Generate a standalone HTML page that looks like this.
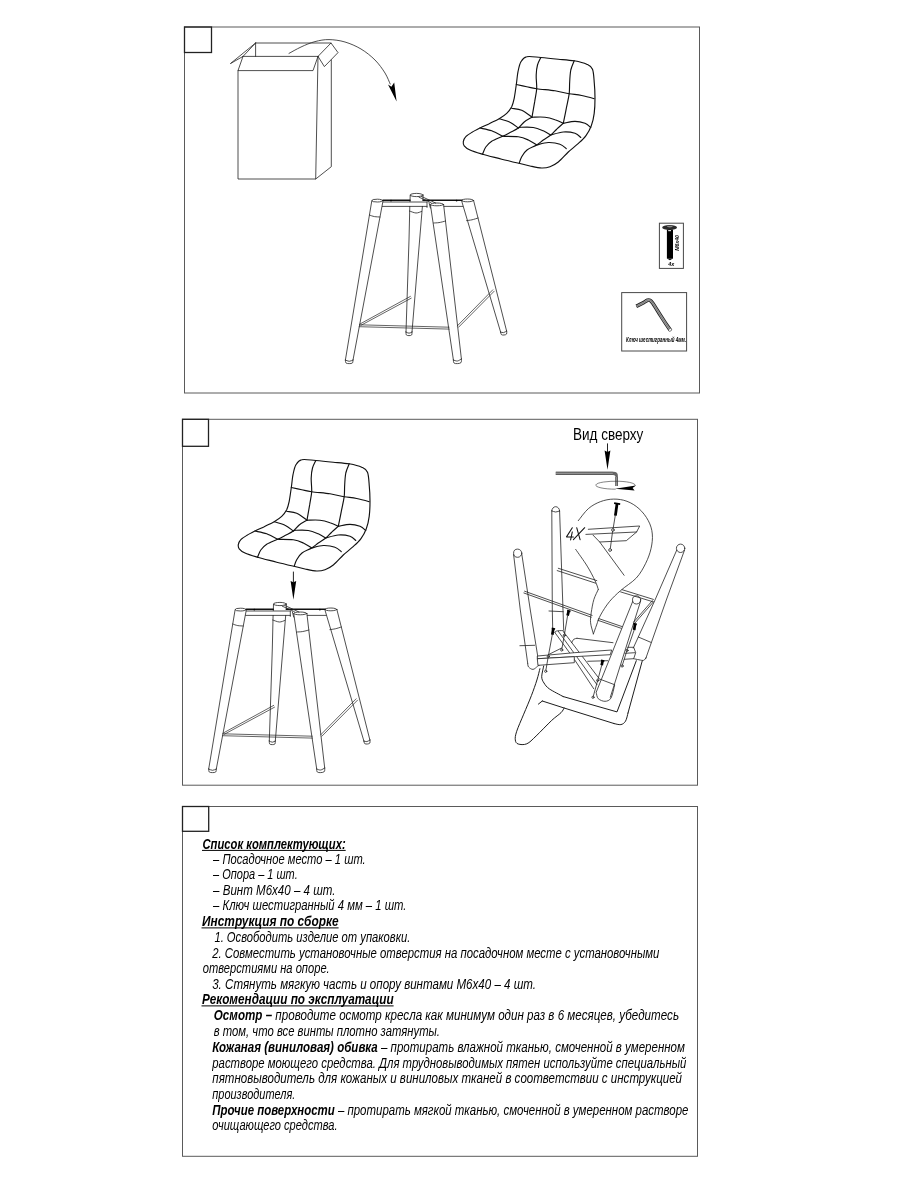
<!DOCTYPE html>
<html lang="ru">
<head>
<meta charset="utf-8">
<title>Инструкция по сборке</title>
<style>
html,body{margin:0;padding:0;background:#fff;}
body{width:900px;height:1200px;overflow:hidden;font-family:"Liberation Sans",sans-serif;}
svg{display:block;position:absolute;left:0;top:0;will-change:transform;}
.f{fill:none;stroke:#5a5a5a;stroke-width:1;}
.b{fill:none;stroke:#222;stroke-width:1.3;}
.l{fill:none;stroke:#222;stroke-width:0.8;stroke-linecap:round;stroke-linejoin:round;}
.t{fill:none;stroke:#333;stroke-width:0.6;stroke-linecap:round;stroke-linejoin:round;}
.s{fill:none;stroke:#111;stroke-width:1.15;stroke-linecap:round;stroke-linejoin:round;}
.k{fill:#000;stroke:none;}
.bk{stroke:#111;stroke-width:1.5;}
.kk{fill:#000;stroke:none;}
.x4{stroke-width:1.05;stroke:#111;}
.w{fill:#fff;}
.t2{stroke-width:0.7;stroke:#222;}
.h{stroke-width:0.95;stroke:#111;}
.sk3{stroke:#000;stroke-width:2.8;stroke-linecap:butt;}
.sk{stroke:#000;stroke-width:2.7;stroke-linecap:butt;}
.sk2{stroke:#000;stroke-width:1.7;stroke-linecap:butt;}
text{font-family:"Liberation Sans",sans-serif;fill:#000;}
.ti{font-style:italic;font-size:14.5px;}
.tb{font-style:italic;font-weight:bold;font-size:14.5px;}
</style>
</head>
<body>
<svg width="900" height="1200" viewBox="0 0 900 1200">
<rect class="f" x="184.5" y="27" width="515" height="366"/>
<rect class="b" x="184.5" y="27" width="27" height="25.5"/>
<rect class="f" x="182.5" y="419.3" width="515" height="365.9"/>
<rect class="b" x="182.5" y="419.3" width="26" height="27"/>
<rect class="f" x="182.5" y="806.5" width="515" height="349.8"/>
<rect class="b" x="182.5" y="806.5" width="26.2" height="24.8"/>
<path class="l" d="M255.6 43 L331 43"/>
<path class="l" d="M255.6 43 L230.4 63.6 L243 56.4 L255.6 43"/>
<path class="l" d="M255.6 43 L255.6 56.4"/>
<path class="l" d="M243 56.4 L318 56.4"/>
<path class="l" d="M243 56.4 L238 70.6 L313 70.6 L318 56.4"/>
<path class="l" d="M238 70.6 L238 179 L315.7 179 L318 56.4"/>
<path class="l" d="M318 56.4 L331 43 L338 52.6 L324.4 66.6 L318 56.4"/>
<path class="l" d="M331.3 60 L331.3 166.7 L315.7 179"/>
<path class="l" d="M289 53.4 C291 52.3 296.7 49 301 47 C305.3 45 310.3 42.8 315 41.6 C319.7 40.4 324 39.5 329 39.6 C334 39.7 339.7 40.4 345 42 C350.3 43.6 356 46 361 49 C366 52 371 56 375 60 C379 64 382.5 69 385 73 C387.5 77 389.3 82.2 390.2 84"/>
<path class="k" d="M396.6 101.6 L388 84.4 L391.4 86.8 L394.2 82.6Z"/>
<g id="seat" class="s"><path d="M526.7 56.7 C530 55.9 535.6 57.1 540.8 57.5 C546.1 57.9 552.8 58.6 558.3 59.2 C563.9 59.7 569.4 60 574.2 60.8 C578.9 61.7 583.6 62.8 586.7 64.2 C589.7 65.6 591.2 66 592.5 69.2 C593.8 72.4 593.9 78.5 594.3 83.3 C594.8 88.2 595 93.3 595 98.3 C595 103.3 594.8 108.8 594.2 113.3 C593.6 117.9 592.7 122.1 591.3 125.8 C589.9 129.6 588.1 132.8 585.8 135.8 C583.5 138.9 580.4 141.5 577.5 144.2 C574.6 146.9 571.5 149 568.3 152 C565.1 155 561.4 159.6 558.3 162 C555.3 164.4 552.8 165.7 550 166.7 C547.2 167.7 545 168.1 541.7 168 C538.3 167.9 533.8 166.8 530 166 C526.2 165.2 523.9 164.5 519.2 163.3 C514.4 162.2 507.8 160.7 501.7 159.2 C495.6 157.6 487.8 155.7 482.5 154.2 C477.2 152.6 473.1 151.4 470 150 C466.9 148.6 465.3 147.2 464.2 145.8 C463.1 144.4 463.1 143.2 463.3 141.7 C463.6 140.1 464.4 138.2 465.8 136.7 C467.2 135.1 469.3 133.9 471.7 132.5 C474 131.1 477.1 129.5 480 128 C482.9 126.5 486 125.2 489.2 123.7 C492.4 122.1 496.2 120.4 499.2 118.7 C502.1 116.9 504.6 115.3 506.7 113.3 C508.8 111.3 510.4 109.2 511.7 106.7 C512.9 104.2 513.4 102 514.2 98.3 C514.9 94.6 515.7 88.9 516.3 84.5 C517 80.1 517.2 75.4 518 71.7 C518.8 67.9 519.4 64.5 520.8 62 C522.3 59.5 523.3 57.4 526.7 56.7Z"/><path d="M540.8 57.5 C540.3 58.8 538.3 62.1 537.5 65 C536.7 67.9 536.3 71.1 536.2 75 C536 78.9 536.9 84.2 536.7 88.7 C536.4 93.1 535.4 96.9 534.7 101.7 C533.9 106.4 532.4 114.6 532 117.2"/><path d="M574.2 60.8 C573.6 62.4 571.6 66.5 570.8 70 C570.1 73.5 569.9 77.7 569.7 81.7 C569.4 85.6 569.7 89.2 569.2 93.7 C568.6 98.1 567.3 103.4 566.3 108.3 C565.4 113.3 563.8 120.8 563.3 123.3"/><path d="M516.3 84.5 C518.1 84.9 523.3 86 526.7 86.7 C530.1 87.4 531.9 88 536.7 88.7 C541.4 89.4 549.6 90 555 90.8 C560.4 91.7 564.7 92.9 569.2 93.7 C573.6 94.4 577.5 94.7 581.7 95.5 C585.8 96.3 592.1 98.1 594.2 98.7"/><path d="M511.7 108.3 C513.3 108.7 518.3 108.9 521.7 110.3 C525.1 111.8 530.3 116 532 117.2"/><path d="M532 117.2 C534.2 117.2 541.2 116.8 545 117.2 C548.8 117.6 551.9 118.6 555 119.7 C558.1 120.7 561.9 122.7 563.3 123.3"/><path d="M563.3 123.3 C565.3 123 571.4 121.3 575 121.3 C578.6 121.3 582.4 122.3 585 123.3 C587.6 124.4 589.9 126.8 590.8 127.5"/><path d="M499.2 118.7 C501 119.2 506.8 120.6 510 122.2 C513.2 123.7 516.9 127 518.3 128"/><path d="M518.3 128 C518.8 127.9 518.3 127.4 520.8 127.3 C523.3 127.2 529.6 126.9 533.3 127.5 C537.1 128.1 540.4 129.6 543.3 130.8 C546.2 132.1 549.6 134.3 550.8 135"/><path d="M550.8 135 C552.9 134.5 559.3 132.3 563.3 132 C567.4 131.7 572.1 132.4 575 133.3 C577.9 134.2 579.9 136.8 580.8 137.5"/><path d="M480 128 C481.9 128.5 487.9 129.4 491.7 130.8 C495.4 132.2 500.7 135.4 502.5 136.3"/><path d="M502.5 136.3 C505.1 136.4 514 136.1 518.3 136.7 C522.6 137.3 525.3 138.6 528.3 140 C531.4 141.4 535.3 144.2 536.7 145"/><path d="M536.7 145 C538.6 144.6 544.4 142.6 548.3 142.5 C552.2 142.4 557 143.1 560 144.2 C563 145.2 565.3 147.9 566.3 148.7"/><path d="M532 117.2 C530.7 118 526.4 120.2 524.2 122 C521.9 123.8 520.7 126.2 518.3 128 C516 129.8 512.6 131.1 510 132.5 C507.4 133.9 505.6 134.9 502.5 136.3 C499.4 137.8 494.4 139.6 491.7 141.3 C488.9 143.1 487.4 144.9 485.8 147 C484.3 149.1 483.1 153 482.5 154.2"/><path d="M563.3 123.3 C562.2 124.3 558.8 127.2 556.7 129.2 C554.6 131.1 553.1 133.2 550.8 135 C548.6 136.8 545.7 138.3 543.3 140 C541 141.7 539.4 143.3 536.7 145 C533.9 146.7 529.5 148.1 527 150 C524.5 151.9 523 154.4 521.7 156.7 C520.4 158.9 519.6 162.2 519.2 163.3"/></g>
<use href="#seat" transform="translate(-225 403)"/>
<g id="base" class="l"><ellipse cx="377.4" cy="200.6" rx="5.6" ry="1.4"/><path d="M371.8 200.8 L345.4 360"/><path d="M383 201 L353 360"/><path d="M369.4 215 C370.2 215.3 372.7 216.3 374.5 216.6 C376.3 216.9 379.1 216.9 380 217"/><path d="M345.4 360 C345.5 360.5 345.4 362.4 346 363 C346.6 363.6 348.1 363.6 349.2 363.6 C350.3 363.6 351.8 363.6 352.4 363 C353 362.4 352.9 360.5 353 360"/><path d="M345.4 360 C346 360.2 347.9 361.3 349.2 361.3 C350.5 361.3 352.4 360.2 353 360"/><ellipse cx="416.6" cy="195" rx="6.4" ry="1.6"/><path d="M410.2 195.2 L410 201.6"/><path d="M409.8 206.4 L409 240 L406 332"/><path d="M423 195.2 L423 200"/><path d="M422.4 206.4 L412 332"/><path d="M409.4 211 C410.5 211.3 414 212.9 416 213 C418 213.1 420.7 211.7 421.6 211.4"/><path d="M406 332 C406.1 332.5 405.9 334.4 406.4 335 C406.9 335.6 408.1 335.6 409 335.6 C409.9 335.6 411.1 335.6 411.6 335 C412.1 334.4 411.9 332.5 412 332"/><path d="M406 332 C406.5 332.2 408 333.2 409 333.2 C410 333.2 411.5 332.2 412 332"/><ellipse cx="437" cy="204.4" rx="6.6" ry="1.4"/><path d="M430.4 204.6 L453.4 360"/><path d="M443.6 204.6 L461.4 359"/><path d="M433.6 223 C434.5 222.9 437 222.9 439 222.6 C441 222.3 444.5 221.3 445.6 221"/><path d="M453.4 360 C453.5 360.5 453.3 362.4 454 363 C454.7 363.6 456.2 363.7 457.4 363.6 C458.6 363.5 460.3 363.4 461 362.6 C461.7 361.8 461.3 359.6 461.4 359"/><path d="M453.4 360 C454.1 360.2 456.1 361.2 457.4 361 C458.7 360.8 460.7 359.3 461.4 359"/><ellipse cx="467.6" cy="200.4" rx="6" ry="1.4"/><path d="M461.6 200.8 L500.6 332"/><path d="M473.6 200.6 L506.6 331"/><path d="M466.6 220.6 C467.5 220.5 470.1 220.2 472 219.8 C473.9 219.4 477 218.3 478 218"/><path d="M500.6 332 C500.7 332.4 500.8 334.1 501.4 334.6 C502 335.1 503.1 335.1 504 335 C504.9 334.9 506.2 334.7 506.6 334 C507 333.3 506.6 331.5 506.6 331"/><path d="M500.6 332 C501.1 332.1 502.6 332.8 503.6 332.6 C504.6 332.4 506.1 331.3 506.6 331"/><path d="M383 200.2 L410 200.2" class="bk"/><path d="M423 200.2 L461.8 200.2" class="bk"/><circle cx="391" cy="200.6" r="0.9" class="kk"/><circle cx="456.6" cy="200.6" r="0.9" class="kk"/><path d="M383.2 202 L427 202"/><path d="M382.4 206.4 L427 206.4"/><path d="M444 206.4 L462.8 206.4"/><path d="M427 202 L427 207.4"/><path d="M429 202.6 L430.4 208"/><path d="M419 197.2 L431 202.6"/><path d="M421.4 196.4 L435.6 203"/><path d="M359.4 324.8 L449 327.2" class="t2"/><path d="M359.2 326.7 L449.2 329.1" class="t2"/><path d="M360 324 L410.4 296.4" class="t2"/><path d="M360.8 325.4 L411.2 298.2" class="t2"/><path d="M457.4 325.8 L492.8 289.8" class="t2"/><path d="M458.6 327.2 L494.2 291.2" class="t2"/></g>
<use href="#base" transform="translate(-136.7 409)"/>
<rect class="b" x="659.4" y="223.2" width="24" height="45.2" style="stroke:#484848;stroke-width:1"/>
<ellipse cx="669.6" cy="227.6" rx="7.4" ry="2.5" fill="#2a2a2a"/>
<ellipse cx="669.8" cy="226.6" rx="3" ry="0.8" fill="#888"/>
<rect x="666.9" y="229.6" width="6.1" height="29" fill="#000"/>
<path d="M666.9 258.6 L669.9 260.2 L673 258.6Z" fill="#000"/>
<rect x="668.2" y="230" width="2.8" height="1.2" fill="#ddd"/>
<text transform="translate(678.6 250.8) rotate(-90)" style="font-size:5.6px;font-style:italic;font-weight:bold" textLength="15.8" lengthAdjust="spacingAndGlyphs">M6x40</text>
<text x="668.2" y="266" style="font-size:5.8px;font-style:italic;font-weight:bold" textLength="6" lengthAdjust="spacingAndGlyphs">4x</text>
<rect class="b" x="621.7" y="292.6" width="64.9" height="58.4" style="stroke:#484848;stroke-width:1"/>
<path d="M636.3 306.3 C637.2 305.9 641 304.1 642.6 303.2 C644.1 302.4 646.4 300.7 647.4 300.3 C648.5 299.9 649.3 299.9 650.1 300.3 C650.9 300.7 651.2 300.9 652.8 303.2 C654.4 305.5 658.7 312.7 661.2 316.6 C663.7 320.4 668.8 328 670.1 329.9" fill="none" stroke="#222" stroke-width="3.7" stroke-linejoin="round" stroke-linecap="butt"/>
<path d="M636.7 306.2 C637.5 305.7 641 304.1 642.6 303.2 C644.1 302.4 646.4 300.7 647.4 300.3 C648.5 299.9 649.3 299.9 650.1 300.3 C650.9 300.7 651.2 300.9 652.8 303.2 C654.4 305.5 658.8 312.8 661.2 316.6 C663.6 320.3 668.5 327.6 669.8 329.4" fill="none" stroke="#aaa" stroke-width="2" stroke-linejoin="round" stroke-linecap="butt"/>
<path d="M636.3 306.3 C637.2 305.9 641 304.1 642.6 303.2 C644.1 302.4 646.4 300.7 647.4 300.3 C648.5 299.9 649.3 299.9 650.1 300.3 C650.9 300.7 651.2 300.9 652.8 303.2 C654.4 305.5 658.7 312.7 661.2 316.6 C663.7 320.4 668.8 328 670.1 329.9" fill="none" stroke="#555" stroke-width="0.6" stroke-linejoin="round"/>
<ellipse cx="670.1" cy="329.9" rx="1.7" ry="1.3" fill="#fff" stroke="#333" stroke-width="0.6" transform="rotate(-35 670.1 329.9)"/>
<text x="626.1" y="341.9" style="font-size:6.3px;font-style:italic;font-weight:bold" textLength="60" lengthAdjust="spacingAndGlyphs">Ключ шестигранный 4мм.</text>
<path class="l" d="M293.4 572 L293.4 582" style="stroke-width:1"/>
<path class="k" d="M293.4 599.8 L290.6 581 L293.4 582.2 L296.2 581Z"/>
<text x="573" y="439.8" style="font-size:17.4px" textLength="70.3" lengthAdjust="spacingAndGlyphs">Вид сверху</text>
<path class="l" d="M607.5 443.8 L607.5 452" style="stroke-width:1"/>
<path class="k" d="M607.5 469.8 L604.6 450.4 L607.5 452 L610.4 450.4Z"/>
<defs><linearGradient id="hk" x1="0" y1="0" x2="0" y2="1"><stop offset="0" stop-color="#444"/><stop offset="0.5" stop-color="#999"/><stop offset="1" stop-color="#444"/></linearGradient><linearGradient id="hk2" x1="0" y1="0" x2="1" y2="0"><stop offset="0" stop-color="#555"/><stop offset="0.5" stop-color="#999"/><stop offset="1" stop-color="#444"/></linearGradient></defs>
<path d="M555.8 471.8 H613.6 Q617.9 471.8 617.9 476 V486 H615.4 V476.6 Q615.4 474.9 613.2 474.9 H555.8Z" fill="#666"/>
<rect x="555.8" y="471.8" width="57" height="3.1" fill="url(#hk)"/>
<rect x="615.4" y="477" width="2.5" height="9" fill="url(#hk2)"/>
<path class="t" d="M615.3 489.2 A19.8 4 0 1 1 634.8 486.2"/>
<path class="k" d="M615 488.7 L635.8 485.4 L632.6 488 L634.6 490.4Z"/>
<g class="l"><path d="M578.3 520.7 C580 518.7 584.7 511.8 588.3 508.7 C592 505.5 596.1 503.3 600.3 501.7 C604.6 500.1 609.2 499.1 613.7 499.1 C618.1 499 622.8 499.7 627 501.3 C631.2 502.9 635.4 505.4 639 508.7 C642.6 511.9 646.1 516.4 648.3 520.7 C650.6 524.9 651.9 529.3 652.3 534 C652.8 538.7 652.1 543.8 651 548.7 C649.9 553.6 648.1 558.4 645.7 563.3 C643.2 568.2 640.5 573.5 636.3 578 C632.1 582.5 625 586.6 620.6 590.6 C616.1 594.5 612.8 597.6 609.4 601.7 C606.1 605.7 602.7 611.1 600.6 615 C598.4 618.9 597.7 621.9 596.6 625 C595.4 628.1 594 632.4 593.4 633.9"/><path d="M575.7 549.4 C577.6 552.2 584 560.9 587.2 566.1 C590.4 571.3 593.1 576.7 595 580.6 C596.9 584.4 597.8 588 598.3 589.4"/><path d="M598.3 589.4 C597.6 591.1 595.1 595.6 593.9 599.4 C592.7 603.3 591.8 608.9 591.2 612.8 C590.7 616.7 590.2 619.3 590.6 622.8 C590.9 626.3 593 632 593.4 633.9"/><path d="M572.3 527.7 L566.5 536.9 L573.4 536.9" class="x4"/><path d="M572.3 531.9 L570.6 539.9" class="x4"/><path d="M576.7 527.7 L580.1 539.7" class="x4"/><path d="M584.7 527.7 L573.4 539.7" class="x4"/><path d="M614.1 503.2 L620.2 504.1" class="sk2"/><path d="M617 503.9 L615.4 515.6" class="sk3"/><path d="M615.3 515.3 L613.1 528.7"/><circle class="w" cx="612.9" cy="530" r="1.3"/><path d="M612.6 531.3 L610.3 548.7"/><circle class="w" cx="610.1" cy="550" r="1.4"/><path d="M588.3 529.3 L639.7 526 L636.6 532 L626.3 540.7 L599.7 542 L593 535.1"/><path d="M585.9 534.4 L636.6 532"/><path d="M599.7 542 L624.1 575.3"/><path d="M551.8 510.9 A3.9 4.2 0 0 1 559.6 510.9"/><path d="M551.8 510.9 C552.4 511.1 554.4 512 555.7 512 C557 512 558.9 511.1 559.6 510.9"/><path d="M551.8 510.9 L552.3 610 L552.7 628.7"/><path d="M559.6 510.9 L563 610 L563.7 630"/><path d="M549 611 L563.2 611.7"/><circle cx="517.7" cy="553.2" r="4.1"/><path d="M513.6 554.6 L520.3 610 L527.7 663.3"/><path d="M521.8 554.2 L530.3 610 L537.7 656 L539 665.3"/><path d="M527.7 663.3 C527.9 663.9 527.7 666 528.6 667 C529.5 668 531.5 669.5 533 669.4 C534.5 669.3 536.4 667.1 537.4 666.4 C538.4 665.7 538.7 665.5 539 665.3"/><path d="M519.9 645.7 L534.6 645.3"/><circle cx="680.6" cy="548.3" r="4.2"/><path d="M676.7 550.2 L655 600 L638.3 637 L633.3 648"/><path d="M684.5 550.2 L666.3 600 L645.7 658.7"/><path d="M633.7 658.7 C634.6 658.9 637.3 659.5 639 659.8 C640.7 660.1 642.5 660.7 643.7 660.3 C644.9 659.9 645.6 658 646 657.6"/><path d="M638.3 637 L651 642.4"/><circle cx="636.6" cy="599.9" r="4.1"/><path d="M632.7 601.4 L596.3 692"/><path d="M640.5 601.4 L610.3 697.3"/><path d="M596.3 692.7 C596.6 693.7 596.8 697.3 598.3 698.7 C599.8 700.1 602.9 701.4 605 701.3 C607.1 701.2 609.4 700.7 611 698 C612.6 695.3 614 687.4 614.6 685.3"/><path d="M600.3 679.3 L614.6 684.7"/><path d="M558.3 568.3 L596.8 580.6"/><path d="M557.2 570.6 L595.7 583.2"/><path d="M622.1 589.7 L653.4 599.4"/><path d="M620.6 591.9 L652.8 601.7"/><path d="M524.6 591.2 L592.1 615.4"/><path d="M523.9 593 L591.2 617.2"/><path d="M598.8 618.6 L622.1 626.6"/><path d="M597.9 620.3 L621.2 628.3"/><path d="M652.3 600.7 L633.7 622"/><path d="M653.7 601.6 L635 622.9"/><path d="M555 632.7 L574.3 659.3 L593.7 688.7"/><path d="M558.3 631.3 L597 684.7"/><path d="M563.7 632 L599.7 679.3"/><path d="M555 632.7 C555.2 632.4 555 631.4 556.3 631.1 C557.7 630.7 561.7 630.4 563 630.7 C564.3 630.9 564.1 632.3 564.3 632.7"/><path d="M537.7 656 L574.3 652.7 L611.7 650 L610.3 654.7 L537.7 658.7Z" class="w"/><path d="M537.7 658.7 L574.3 656.7 L574.3 662.7 L538.3 665.3Z" class="w"/><path d="M587.7 661.3 L607.7 660.7"/><path d="M548.3 654.7 L561.7 648"/><path d="M568.7 611 L567.6 615.6" class="sk"/><path d="M567.1 610.7 L570.5 611.3" class="sk2"/><path d="M567.6 615.6 L564.3 635.3"/><circle class="w" cx="564.3" cy="635.3" r="1.1"/><path d="M564.3 635.3 L561.7 650"/><circle class="w" cx="561.7" cy="650" r="1.1"/><path d="M553.3 628.7 L552.3 634.7" class="sk"/><path d="M551.7 628.4 L555.1 629" class="sk2"/><path d="M552.3 634.7 L548.3 656.3"/><circle class="w" cx="548.3" cy="656.3" r="1.1"/><path d="M548.3 656.3 L545.7 671.3"/><circle class="w" cx="545.7" cy="671.3" r="1.1"/><path d="M602.6 660.7 L601.7 665.3" class="sk"/><path d="M601 660.4 L604.4 661" class="sk2"/><path d="M601.7 665.3 L597.7 680.4"/><circle class="w" cx="597.7" cy="680.4" r="1.1"/><path d="M597.7 680.4 L593 697.3"/><circle class="w" cx="593" cy="697.3" r="1.1"/><path d="M635 624 L634.2 630" class="sk"/><path d="M633.4 623.7 L636.8 624.3" class="sk2"/><path d="M634.2 630 L627 650.4"/><circle class="w" cx="627" cy="650.4" r="1.1"/><path d="M627 650.4 L622.1 666"/><circle class="w" cx="622.1" cy="666" r="1.1"/><path d="M571.7 642.7 C572 642.1 572.8 640.1 573.7 639.3 C574.6 638.6 576.4 638.4 577 638.3"/><path d="M577 638.3 L613 642.7"/><path d="M543.7 666 C543.4 667.8 541.7 673.9 541.7 676.7 C541.8 679.5 542.7 681 544 683 C545.3 685 546.3 686.8 549.5 689 C552.7 691.2 560.8 695.2 563 696.5" class="h"/><path d="M563 696.5 L617 711.9 L636.3 660.7" class="h"/><path d="M538.4 704.1 L542.3 701" class="h"/><path d="M542.3 701 L564.1 708 L613.9 723.5" class="h"/><path d="M613.9 723.5 C615.1 723.7 619 725 620.9 724.6 C622.8 724.2 624.3 723.1 625.5 721.2 C626.7 719.3 627.6 714.4 628 713" class="h"/><path d="M628 713 L642.3 660.7" class="h"/><path d="M627.7 647.3 L633.7 647.3 L635.7 652.7 L633.7 658.7 L624.3 659.3"/><path d="M625 653.3 L635 652.7"/><path d="M539.9 668.7 C539.4 670.6 538.3 675.5 536.9 680 C535.5 684.5 533.6 689.9 531.4 695.6 C529.2 701.3 526.2 708.2 523.7 714.2 C521.2 720.2 518.1 727 516.7 731.3 C515.3 735.6 515 737.8 515.3 739.9 C515.5 742 516.3 743.4 518.2 744 C520.1 744.6 523.8 745.1 526.8 743.8 C529.8 742.5 532 739.9 536.1 736 C540.2 732.1 547.6 724.3 551.7 720.4 C555.9 716.5 558.9 714.8 561 712.7 C563.1 710.6 563.6 708.8 564.1 708" class="h"/></g>
<text class="ti" x="202.5" y="848.5" textLength="143.2" lengthAdjust="spacingAndGlyphs" xml:space="preserve"><tspan class="tb">Список комплектующих:</tspan></text>
<path d="M202 850.4 H345.7" stroke="#000" stroke-width="1" fill="none"/>
<text class="ti" x="213.1" y="864" textLength="152.6" lengthAdjust="spacingAndGlyphs" xml:space="preserve">– Посадочное место – 1 шт.</text>
<text class="ti" x="213.1" y="879.4" textLength="84.6" lengthAdjust="spacingAndGlyphs" xml:space="preserve">– Опора – 1 шт.</text>
<text class="ti" x="213.1" y="894.8" textLength="122.4" lengthAdjust="spacingAndGlyphs" xml:space="preserve">– Винт М6х40 – 4 шт.</text>
<text class="ti" x="213.1" y="910.2" textLength="193.4" lengthAdjust="spacingAndGlyphs" xml:space="preserve">– Ключ шестигранный 4 мм – 1 шт.</text>
<text class="ti" x="202" y="926" textLength="136.6" lengthAdjust="spacingAndGlyphs" xml:space="preserve"><tspan class="tb">Инструкция по сборке</tspan></text>
<path d="M201.5 927.9 H338.6" stroke="#000" stroke-width="1" fill="none"/>
<text class="ti" x="214.4" y="941.9" textLength="195.9" lengthAdjust="spacingAndGlyphs" xml:space="preserve">1. Освободить изделие от упаковки.</text>
<text class="ti" x="212.2" y="957.8" textLength="447.2" lengthAdjust="spacingAndGlyphs" xml:space="preserve">2. Совместить установочные отверстия на посадочном месте с установочными</text>
<text class="ti" x="202.8" y="973.4" textLength="126.9" lengthAdjust="spacingAndGlyphs" xml:space="preserve">отверстиями на опоре.</text>
<text class="ti" x="212.2" y="988.8" textLength="323.8" lengthAdjust="spacingAndGlyphs" xml:space="preserve">3. Стянуть мягкую часть и опору винтами М6х40 – 4 шт.</text>
<text class="ti" x="202" y="1004" textLength="191.6" lengthAdjust="spacingAndGlyphs" xml:space="preserve"><tspan class="tb">Рекомендации по эксплуатации</tspan></text>
<path d="M201.5 1005.9 H393.6" stroke="#000" stroke-width="1" fill="none"/>
<text class="ti" x="213.8" y="1020.4" textLength="465.2" lengthAdjust="spacingAndGlyphs" xml:space="preserve"><tspan class="tb">Осмотр –</tspan> проводите осмотр кресла как минимум один раз в 6 месяцев, убедитесь</text>
<text class="ti" x="213.8" y="1036.2" textLength="226.2" lengthAdjust="spacingAndGlyphs" xml:space="preserve">в том, что все винты плотно затянуты.</text>
<text class="ti" x="212.3" y="1052" textLength="472.6" lengthAdjust="spacingAndGlyphs" xml:space="preserve"><tspan class="tb">Кожаная (виниловая) обивка</tspan> – протирать влажной тканью, смоченной в умеренном</text>
<text class="ti" x="212.3" y="1067.8" textLength="474" lengthAdjust="spacingAndGlyphs" xml:space="preserve">растворе моющего средства. Для трудновыводимых пятен используйте специальный</text>
<text class="ti" x="212.3" y="1083.4" textLength="469.7" lengthAdjust="spacingAndGlyphs" xml:space="preserve">пятновыводитель для кожаных и виниловых тканей в соответствии с инструкцией</text>
<text class="ti" x="212.3" y="1099" textLength="83" lengthAdjust="spacingAndGlyphs" xml:space="preserve">производителя.</text>
<text class="ti" x="212.3" y="1114.8" textLength="476.1" lengthAdjust="spacingAndGlyphs" xml:space="preserve"><tspan class="tb">Прочие поверхности</tspan> – протирать мягкой тканью, смоченной в умеренном растворе</text>
<text class="ti" x="212.3" y="1130.4" textLength="125.2" lengthAdjust="spacingAndGlyphs" xml:space="preserve">очищающего средства.</text>
</svg>
</body>
</html>
